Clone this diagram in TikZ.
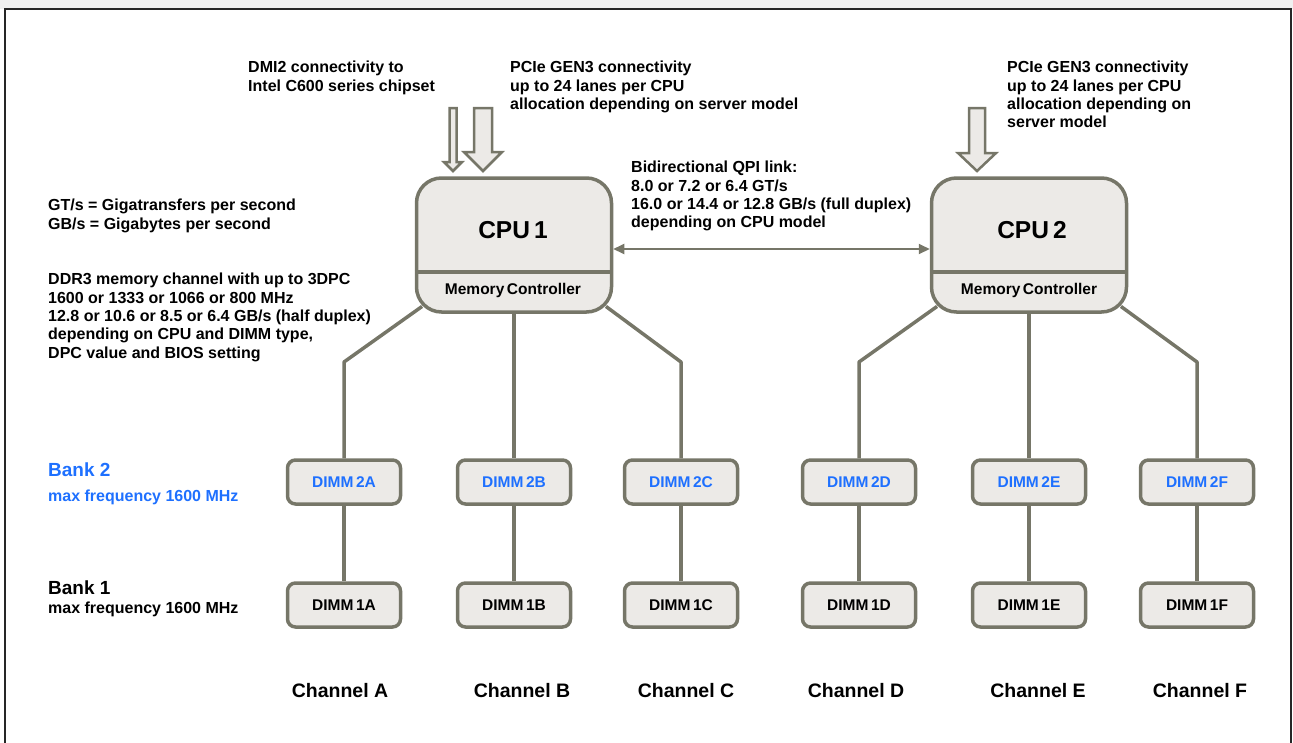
\documentclass[tikz,border=0pt]{standalone}
\usepackage{fontspec}
\setmainfont{Liberation Sans}
\usetikzlibrary{arrows.meta}
\definecolor{edgec}{RGB}{118,118,104}
\definecolor{boxfill}{RGB}{236,234,231}
\definecolor{bankblue}{RGB}{30,112,255}
\tikzset{
  x=1pt, y=-1pt,
  cpubox/.style={draw=edgec, line width=3.5pt, fill=boxfill, rounded corners=25pt,
    minimum width=195pt, minimum height=134pt, inner sep=0pt},
  dimmbox/.style={draw=edgec, line width=3.5pt, fill=boxfill, rounded corners=8pt,
    minimum width=113pt, minimum height=44pt, inner sep=0pt,
    font=\bfseries\fontsize{15.5}{18}\selectfont},
  wire/.style={draw=edgec, line width=3.5pt},
  qpi/.style={draw=edgec, line width=2pt, {Triangle[length=11pt,width=10pt]}-{Triangle[length=11pt,width=10pt]}},
  blockarrow/.style={draw=edgec, line width=2.5pt, fill=boxfill, line join=miter},
  note/.style={anchor=north west, inner sep=0pt, align=left,
    font=\bfseries\fontsize{16}{18.3}\selectfont},
  chan/.style={inner sep=0pt, font=\bfseries\fontsize{19.5}{21}\selectfont},
}
\begin{document}
\begin{tikzpicture}
\useasboundingbox (0,0) rectangle (1293,742);
% frame
\fill[black!6] (0,0) rectangle (1293,9);
\draw[line width=2pt, black!85] (5,9) rectangle (1290.5,760);

% CPUs
\node[cpubox] (cpu1) at (514,245) {};
\node[cpubox] (cpu2) at (1029,245) {};
\draw[edgec, line width=3.5pt] (cpu1.west |- 0,272) -- (cpu1.east |- 0,272);
\draw[edgec, line width=3.5pt] (cpu2.west |- 0,272) -- (cpu2.east |- 0,272);
\node[font=\bfseries\fontsize{24.5}{26}\selectfont, inner sep=0pt] (cpu1t) at (513,230) {CPU\,1};
\node[font=\bfseries\fontsize{24.5}{26}\selectfont, inner sep=0pt] (cpu2t) at (1032,230) {CPU\,2};
\node[font=\bfseries\fontsize{15.5}{17}\selectfont, inner sep=0pt] (mc1) at (513,290) {Memory\,Controller};
\node[font=\bfseries\fontsize{15.5}{17}\selectfont, inner sep=0pt] (mc2) at (1029,290) {Memory\,Controller};

% block arrows
\draw[blockarrow] (449.5,108) -- (456.5,108) -- (456.5,162) -- (462,162) -- (453,171) -- (444,162) -- (449.5,162) -- cycle;
\draw[blockarrow] (474,108) -- (492,108) -- (492,152) -- (502,152) -- (483,171) -- (464,152) -- (474,152) -- cycle;
\draw[blockarrow] (969,108) -- (985,108) -- (985,153) -- (996,153) -- (977,171) -- (958,153) -- (969,153) -- cycle;

% QPI link
\coordinate (qpiy) at (0,249);
\draw[qpi] (cpu1.east |- qpiy) -- (cpu2.west |- qpiy);

% DIMMs
\foreach \c/\x/\cx in {A/344/340,B/514/522,C/681/686,D/859/856,E/1029/1038,F/1197/1200}{
  \node[dimmbox, text=bankblue] (d2\c) at (\x,482) {DIMM\,2\c};
  \node[dimmbox, text=black] (d1\c) at (\x,605) {DIMM\,1\c};
  \draw[wire] (d2\c.south) -- (d1\c.north);
  \node[chan] (ch\c) at (\cx,691) {Channel \c};
}

% memory channel wires
\coordinate (bA) at (344,362);
\coordinate (bC) at (681,362);
\coordinate (bD) at (859,362);
\coordinate (bF) at (1197,362);
\draw[wire, line join=round] ([shift={(7.3,-7.3)}]cpu1.south west) -- (bA) -- (d2A.north);
\draw[wire] (cpu1.south -| d2B) -- (d2B.north);
\draw[wire, line join=round] ([shift={(-7.3,-7.3)}]cpu1.south east) -- (bC) -- (d2C.north);
\draw[wire, line join=round] ([shift={(7.3,-7.3)}]cpu2.south west) -- (bD) -- (d2D.north);
\draw[wire] (cpu2.south -| d2E) -- (d2E.north);
\draw[wire, line join=round] ([shift={(-7.3,-7.3)}]cpu2.south east) -- (bF) -- (d2F.north);

% notes
\node[note] (dmi) at (248,61) {DMI2 connectivity to\\Intel C600 series chipset};
\node[note] (pcie1) at (510,61) {PCIe GEN3 connectivity\\up to 24 lanes per CPU\\allocation depending on server model};
\node[note] (pcie2) at (1007,61) {PCIe GEN3 connectivity\\up to 24 lanes per CPU\\allocation depending on\\server model};
\node[note] (qpit) at (631,161) {Bidirectional QPI link:\\8.0 or 7.2 or 6.4 GT/s\\16.0 or 14.4 or 12.8 GB/s (full duplex)\\depending on CPU model};
\node[note] (units) at (48,199) {GT/s = Gigatransfers per second\\GB/s = Gigabytes per second};
\node[note] (ddr) at (48,273) {DDR3 memory channel with up to 3DPC\\1600 or 1333 or 1066 or 800 MHz\\12.8 or 10.6 or 8.5 or 6.4 GB/s (half duplex)\\depending on CPU and DIMM type,\\DPC value and BIOS setting};

% banks
\node[anchor=west, inner sep=0pt, text=bankblue, font=\bfseries\fontsize{19}{21}\selectfont] (bank2) at (48,470) {Bank 2};
\node[anchor=west, inner sep=0pt, text=bankblue, font=\bfseries\fontsize{16}{18}\selectfont] (bank2f) at (48,497) {max frequency 1600 MHz};
\node[anchor=west, inner sep=0pt, font=\bfseries\fontsize{19}{21}\selectfont] (bank1) at (48,588) {Bank 1};
\node[anchor=west, inner sep=0pt, font=\bfseries\fontsize{16}{18}\selectfont] (bank1f) at (48,609) {max frequency 1600 MHz};
\end{tikzpicture}
\end{document}
